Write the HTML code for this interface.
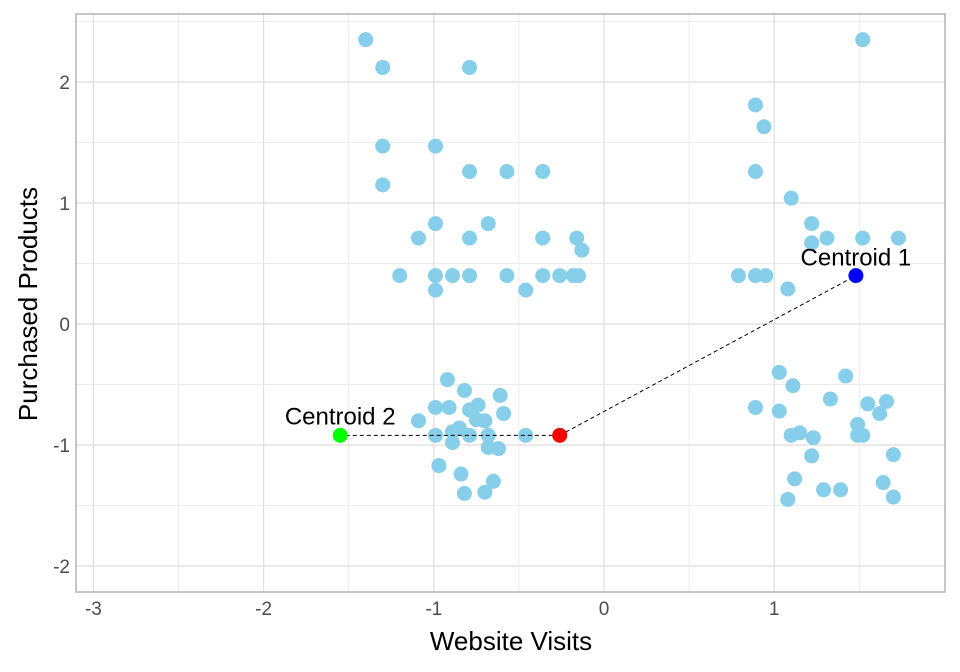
<!DOCTYPE html>
<html><head><meta charset="utf-8"><style>
body{margin:0;background:#fff;}
svg{display:block;font-family:"Liberation Sans",Arial,sans-serif;}
</style></head><body>
<svg id="chart" width="960" height="672" viewBox="0 0 960 672"></svg>
<script>
const ptsX=[-1.40,-1.30,-0.79,-1.30,-0.99,-1.30,-0.79,-0.57,-0.36,-1.09,-0.99,-0.79,-0.68,-0.36,-0.16,-0.13,-1.20,-0.99,-0.89,-0.79,-0.57,-0.36,-0.26,-0.18,-0.15,-0.99,-0.46,
1.52,0.89,0.94,0.89,1.10,1.22,1.22,1.31,1.52,1.73,0.79,0.89,0.95,1.08,
-0.92,-0.82,-0.61,-0.99,-0.91,-0.79,-0.74,-0.59,-1.09,-0.85,-0.75,-0.70,-0.99,-0.89,-0.79,-0.68,-0.46,-0.89,-0.68,-0.62,-0.97,-0.84,-0.65,-0.82,-0.70,
1.03,1.11,1.42,1.33,0.89,1.03,1.55,1.66,1.62,1.49,1.10,1.15,1.23,1.49,1.52,1.22,1.70,1.12,1.29,1.39,1.64,1.08,1.70];
const ptsY=[2.35,2.12,2.12,1.47,1.47,1.15,1.26,1.26,1.26,0.71,0.83,0.71,0.83,0.71,0.71,0.61,0.40,0.40,0.40,0.40,0.40,0.40,0.40,0.40,0.40,0.28,0.28,
2.35,1.81,1.63,1.26,1.04,0.83,0.67,0.71,0.71,0.71,0.40,0.40,0.40,0.29,
-0.46,-0.55,-0.59,-0.69,-0.69,-0.71,-0.67,-0.74,-0.80,-0.86,-0.79,-0.80,-0.92,-0.89,-0.92,-0.92,-0.92,-0.98,-1.02,-1.03,-1.17,-1.24,-1.30,-1.40,-1.39,
-0.40,-0.51,-0.43,-0.62,-0.69,-0.72,-0.66,-0.64,-0.74,-0.83,-0.92,-0.90,-0.94,-0.92,-0.92,-1.09,-1.08,-1.28,-1.37,-1.37,-1.31,-1.45,-1.43];
const centroid1=[1.48,0.40];
const centroid2=[-1.55,-0.92];
const newPoint=[-0.26,-0.92];
const xTicks=[-3,-2,-1,0,1];
const yTicks=[-2,-1,0,1,2];
const xMinor=[-2.5,-1.5,-0.5,0.5,1.5];
const yMinor=[-1.5,-0.5,0.5,1.5,2.5];

const NS="http://www.w3.org/2000/svg";
const svg=document.getElementById('chart');
const L=76,R=945,T=14,B=592;
function sx(v){return 604+v*170.2;}
function sy(v){return 324-v*121;}
function mk(t,a,p){const e=document.createElementNS(NS,t);for(const k in a)e.setAttribute(k,a[k]);(p||svg).appendChild(e);return e;}

const grid=mk('g',{});


xMinor.forEach(v=>mk('line',{x1:sx(v),x2:sx(v),y1:T,y2:B,stroke:'#ebebeb','stroke-width':1},grid));
yMinor.forEach(v=>mk('line',{x1:L,x2:R,y1:sy(v),y2:sy(v),stroke:'#ebebeb','stroke-width':1},grid));
xTicks.forEach(v=>mk('line',{x1:sx(v),x2:sx(v),y1:T,y2:B,stroke:'#dedede','stroke-width':1.2},grid));
yTicks.forEach(v=>mk('line',{x1:L,x2:R,y1:sy(v),y2:sy(v),stroke:'#dedede','stroke-width':1.2},grid));

const border=mk('rect',{x:L,y:T,width:R-L,height:B-T,fill:'none',stroke:'#b3b3b3','stroke-width':1.5});



xTicks.forEach(v=>{const t=mk('text',{x:sx(v),y:615,'text-anchor':'middle','font-size':19,fill:'#4d4d4d'});t.textContent=v;

});
yTicks.forEach(v=>{const t=mk('text',{x:70,y:sy(v)+7,'text-anchor':'end','font-size':19,fill:'#4d4d4d'});t.textContent=v;

});

const xt=mk('text',{x:511,y:650,'text-anchor':'middle','font-size':26,fill:'#000'});xt.textContent='Website Visits';


const yt=mk('text',{x:0,y:0,'text-anchor':'middle','font-size':26,fill:'#000',transform:'translate(37,304) rotate(-90)'});yt.textContent='Purchased Products';



const pts=mk('g',{});


ptsX.forEach((x,i)=>{const c=mk('circle',{cx:sx(x),cy:sy(ptsY[i]),r:7.5,fill:'#87ceeb'},pts);

});

const d1=mk('line',{x1:sx(newPoint[0]),y1:sy(newPoint[1]),x2:sx(centroid1[0]),y2:sy(centroid1[1]),stroke:'#000','stroke-width':1,'stroke-dasharray':'4,3'});


const d2=mk('line',{x1:sx(newPoint[0]),y1:sy(newPoint[1]),x2:sx(centroid2[0]),y2:sy(centroid2[1]),stroke:'#000','stroke-width':1,'stroke-dasharray':'4,3'});



const c1=mk('circle',{cx:sx(centroid1[0]),cy:sy(centroid1[1]),r:7.5,fill:'#0000ff'});


const c2=mk('circle',{cx:sx(centroid2[0]),cy:sy(centroid2[1]),r:7.5,fill:'#00ff00'});


const np=mk('circle',{cx:sx(newPoint[0]),cy:sy(newPoint[1]),r:7.5,fill:'#ff0000'});



const l1=mk('text',{x:sx(centroid1[0]),y:sy(centroid1[1])-10,'text-anchor':'middle','font-size':24,fill:'#000'});l1.textContent='Centroid 1';


const l2=mk('text',{x:sx(centroid2[0]),y:sy(centroid2[1])-11,'text-anchor':'middle','font-size':24,fill:'#000'});l2.textContent='Centroid 2';


</script>
</body></html>
